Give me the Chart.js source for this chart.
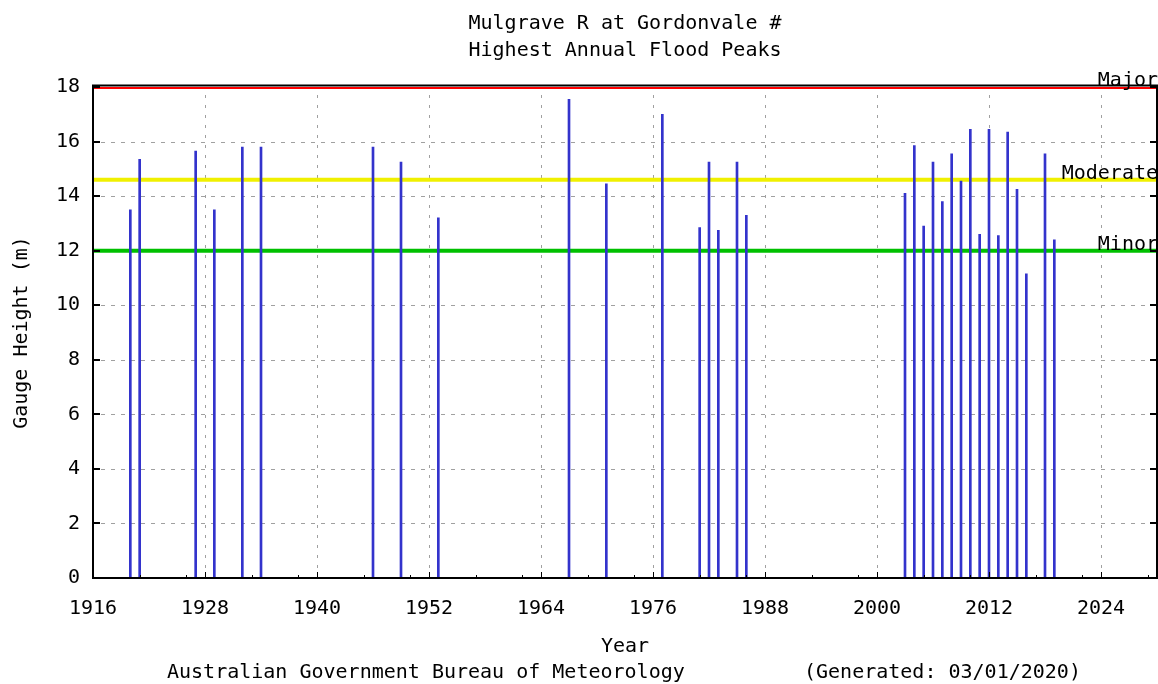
<!DOCTYPE html>
<html><head><meta charset="utf-8">
<script src="https://cdn.jsdelivr.net/npm/chart.js@4.4.1/dist/chart.umd.min.js"></script>
<style>html,body{margin:0;padding:0;background:#fff;}canvas{display:block;}</style>
</head><body>
<canvas id="c" width="1158" height="684"></canvas>
<script>
// ---- data ----
const years = [1920,1921,1927,1929,1932,1934,1946,1949,1953,1967,1971,1977,1981,1982,1983,1985,1986,
  2003,2004,2005,2006,2007,2008,2009,2010,2011,2012,2013,2014,2015,2016,2018,2019];
const peaks = [13.5,15.35,15.65,13.5,15.8,15.8,15.8,15.25,13.2,17.55,14.45,17.0,12.85,15.25,12.75,15.25,13.3,
  14.1,15.85,12.9,15.25,13.8,15.55,14.55,16.45,12.6,16.45,12.55,16.35,14.25,11.15,15.55,12.4];
const levelNames = ['Major','Moderate','Minor'];
const levelHeights = [18, 14.6, 12];
const xTickYears = [1916,1928,1940,1952,1964,1976,1988,2000,2012,2024];
const xMinorTickYears = [1921,1926,1933,1938,1945,1950,1957,1962,1969,1974,1981,1986,1993,1998,2005,2010,2017,2022,2029];
const yTickValues = [0,2,4,6,8,10,12,14,16,18];
const titleLines = ['Mulgrave R at Gordonvale #','Highest Annual Flood Peaks'];
const xTitle = 'Year';
const yTitle = 'Gauge Height (m)';
const footerLeft = 'Australian Government Bureau of Meteorology';
const footerRight = '(Generated: 03/01/2020)';
const xRange = [1916, 2030];

// ---- styles ----
const FONT = '"DejaVu Sans Mono", "Liberation Mono", monospace';
const levelStyle = {Major:{c:'#ff0000',w:4}, Moderate:{c:'#f0f000',w:4}, Minor:{c:'#00c000',w:4}};

const datasets = [{
  type:'bar',
  data: years.map((yr,i)=>({x:yr, y:peaks[i]})),
  backgroundColor:'#3333cc',
  borderWidth:0,
  barThickness:2,
  grouped:false,
  order:0
}];
levelNames.forEach((n,i)=>{
  datasets.push({
    type:'line',
    data:[{x:xRange[0], y:levelHeights[i]},{x:xRange[1], y:levelHeights[i]}],
    borderColor:levelStyle[n].c,
    borderWidth:levelStyle[n].w,
    pointRadius:0,
    fill:false,
    order:1
  });
});

const deco = {
  id:'deco',
  beforeDatasetsDraw(chart){
    const {ctx, chartArea:a, scales:{x,y}} = chart;
    ctx.save();
    ctx.strokeStyle = '#a0a0a0';
    ctx.lineWidth = 1;
    ctx.setLineDash([4,6]);
    yTickValues.forEach(v=>{
      if (v===yTickValues[0] || v===yTickValues[yTickValues.length-1]) return;
      const py = Math.round(y.getPixelForValue(v))+0.5;
      ctx.beginPath(); ctx.moveTo(a.left+8, py); ctx.lineTo(a.right-8, py); ctx.stroke();
    });
    ctx.setLineDash([3,7]);
    xTickYears.forEach(v=>{
      if (v===xRange[0]) return;
      const px = Math.round(x.getPixelForValue(v))+0.5;
      ctx.beginPath(); ctx.moveTo(px, a.top+8); ctx.lineTo(px, a.bottom-6); ctx.stroke();
    });
    ctx.restore();
  },
  afterDatasetsDraw(chart){
    const {ctx, chartArea:a, scales:{x,y}} = chart;
    ctx.save();
    ctx.strokeStyle = '#000';
    ctx.fillStyle = '#000';
    ctx.lineWidth = 2;
    yTickValues.forEach(v=>{
      const py = Math.round(y.getPixelForValue(v));
      ctx.beginPath(); ctx.moveTo(a.left, py); ctx.lineTo(a.left+7, py); ctx.stroke();
      ctx.beginPath(); ctx.moveTo(a.right, py); ctx.lineTo(a.right-7, py); ctx.stroke();
    });
    ctx.lineWidth = 1;
    xTickYears.forEach(v=>{
      const px = Math.round(x.getPixelForValue(v))+0.5;
      ctx.beginPath(); ctx.moveTo(px, a.bottom); ctx.lineTo(px, a.bottom-6); ctx.stroke();
    });
    xMinorTickYears.forEach(v=>{
      const px = Math.round(x.getPixelForValue(v));
      ctx.fillRect(px, a.bottom-3, 1, 3);
    });
    ctx.lineWidth = 2;
    ctx.beginPath();
    ctx.moveTo(a.left, a.top-1.5); ctx.lineTo(a.right, a.top-1.5);
    ctx.moveTo(a.right, a.top-2.5); ctx.lineTo(a.right, a.bottom+1);
    ctx.moveTo(a.left, a.bottom); ctx.lineTo(a.right, a.bottom);
    ctx.moveTo(a.left, a.top-2.5); ctx.lineTo(a.left, a.bottom+1);
    ctx.stroke();
    ctx.restore();
  },
  afterDraw(chart){
    const {ctx, chartArea:a, scales:{y}} = chart;
    ctx.save();
    ctx.fillStyle = '#000';
    ctx.font = '20px ' + FONT;
    ctx.textBaseline = 'alphabetic';
    ctx.textAlign = 'right';
    levelNames.forEach((n,i)=>{
      const py = y.getPixelForValue(levelHeights[i]);
      ctx.fillText(n, a.right+1, py-1);
    });
    ctx.textAlign = 'center';
    const cx = (a.left+a.right)/2;
    ctx.fillText(titleLines[0], cx, 28.5);
    ctx.fillText(titleLines[1], cx, 55.5);
    ctx.textAlign = 'left';
    ctx.fillText(footerLeft, 167, 677.5);
    ctx.fillText(footerRight, 804, 677.5);
    ctx.restore();
  }
};

new Chart(document.getElementById('c'), {
  type:'bar',
  data:{datasets},
  options:{
    responsive:false,
    animation:false,
    events:[],
    layout:{padding:{top:87, right:1, bottom:0, left:0}},
    plugins:{legend:{display:false}, tooltip:{enabled:false}, title:{display:false}},
    scales:{
      x:{
        type:'linear', position:'bottom', offset:false,
        min:xRange[0], max:xRange[1],
        afterBuildTicks:s=>{ s.ticks = xTickYears.map(v=>({value:v})); },
        afterFit:s=>{ s.height = 106; },
        grid:{display:false, drawTicks:false, offset:false},
        border:{display:false},
        ticks:{padding:19, maxRotation:0, autoSkip:false, color:'#000',
               font:{family:FONT, size:20}, callback:v=>String(v)},
        title:{display:true, text:xTitle, color:'#000', font:{family:FONT, size:20},
               padding:{top:0, bottom:25}}
      },
      y:{
        type:'linear', min:0, max:18,
        afterBuildTicks:s=>{ s.ticks = yTickValues.map(v=>({value:v})); },
        afterFit:s=>{ s.width = 93; },
        grid:{display:false, drawTicks:false},
        border:{display:false},
        ticks:{padding:13, color:'#000', font:{family:FONT, size:20}},
        title:{display:true, text:yTitle, color:'#000', font:{family:FONT, size:20},
               padding:{top:10, bottom:0}}
      }
    }
  },
  plugins:[deco]
});
</script>
</body></html>
